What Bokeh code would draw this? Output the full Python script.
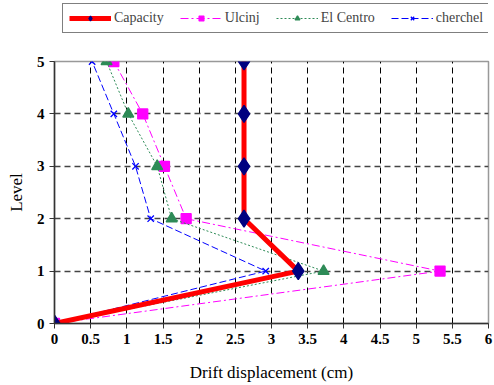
from bokeh.plotting import figure
from bokeh.layouts import column
from bokeh.models import Legend, LegendItem, FixedTicker
from bokeh.embed import file_html
from bokeh.resources import INLINE

levels = [0, 1, 2, 3, 4, 5]
capacity = [0, 3.37, 2.62, 2.62, 2.62, 2.62]
ulcinj = [0, 5.33, 1.82, 1.52, 1.22, 0.82]
el_centro = [0, 3.72, 1.62, 1.42, 1.02, 0.72]
cherchel = [0, 2.92, 1.33, 1.12, 0.82, 0.52]
x_ticks = [0, 0.5, 1, 1.5, 2, 2.5, 3, 3.5, 4, 4.5, 5, 5.5, 6]
y_ticks = [0, 1, 2, 3, 4, 5]
series_names = ["Capacity", "Ulcinj", "El Centro", "cherchel"]

SERIF = "serif"

p = figure(width=494, height=344, output_backend="svg", toolbar_location=None,
           x_range=(0, 6), y_range=(0, 5),
           min_border_left=54, min_border_right=6, min_border_top=20, min_border_bottom=62)

all_x = [capacity, ulcinj, el_centro, cherchel]
styles = {
    0: dict(lc="red", lw=5, dash="solid", m="diamond", ms=17, fc="navy", mc="navy"),
    1: dict(lc="magenta", lw=1, dash="8 3 2 3", m="square", ms=10, fc="magenta", mc="magenta"),
    2: dict(lc="seagreen", lw=1, dash="2 2", m="triangle", ms=11, fc="seagreen", mc="seagreen"),
    3: dict(lc="blue", lw=1, dash="7 3", m="x", ms=9, fc="blue", mc="blue"),
}
for i in [1, 2, 3, 0]:
    s = styles[i]
    p.line(all_x[i], levels, line_color=s["lc"], line_width=s["lw"], line_dash=s["dash"])
    p.scatter(all_x[i], levels, marker=s["m"], size=s["ms"], fill_color=s["fc"],
              line_color=s["mc"], line_width=1.3)

p.xaxis.ticker = FixedTicker(ticks=x_ticks)
p.yaxis.ticker = FixedTicker(ticks=y_ticks)
p.axis.major_label_text_font = SERIF
p.axis.major_label_text_font_style = "bold"
p.axis.major_label_text_font_size = "15px"
p.axis.major_label_text_color = "black"
p.axis.axis_label_text_font = SERIF
p.axis.axis_label_text_font_style = "normal"
p.axis.axis_label_text_font_size = "17px"
p.axis.axis_label_text_color = "black"
p.axis.axis_line_color = "#333333"
p.axis.axis_line_width = 1.5
p.axis.major_tick_line_color = "#333333"
p.axis.major_tick_in = 0
p.axis.major_tick_out = 5
p.axis.minor_tick_line_color = None
p.xaxis.axis_label = "Drift displacement (cm)"
p.yaxis.axis_label = "Level"
p.xaxis.axis_label_standoff = 16
p.yaxis.axis_label_standoff = 8

p.xgrid.grid_line_color = "black"
p.xgrid.grid_line_dash = "6 4"
p.xgrid.grid_line_width = 1
p.ygrid.grid_line_color = "#444444"
p.ygrid.grid_line_dash = "6 4"
p.ygrid.grid_line_width = 1.3

p.outline_line_color = "#999999"
p.outline_line_width = 1.5

# legend strip (separate figure above the chart)
lg = figure(width=494, height=41, output_backend="svg", toolbar_location=None,
            x_range=(0, 1), y_range=(0, 1), x_axis_location=None, y_axis_location=None,
            min_border_left=0, min_border_right=0, min_border_top=0, min_border_bottom=0)
lg.grid.visible = False
lg.outline_line_color = None
items = []
for i in range(4):
    s = styles[i]
    r1 = lg.line([5, 6], [5, 6], line_color=s["lc"], line_width=s["lw"], line_dash=s["dash"])
    r2 = lg.scatter([5], [5], marker=s["m"], size=10, fill_color=s["fc"],
                    line_color=s["mc"], line_width=1.3)
    items.append(LegendItem(label=series_names[i], renderers=[r1, r2]))
legend = Legend(items=items, orientation="horizontal", label_text_font=SERIF,
                label_text_font_size="14px", border_line_color="black", border_line_width=1.5,
                glyph_width=42, glyph_height=12, spacing=16, padding=6, margin=0,
                label_standoff=3, location=(8, 8))
lg.add_layout(legend, "center")

layout = column(lg, p, spacing=0)
open("out.html", "w").write(file_html(layout, INLINE))
